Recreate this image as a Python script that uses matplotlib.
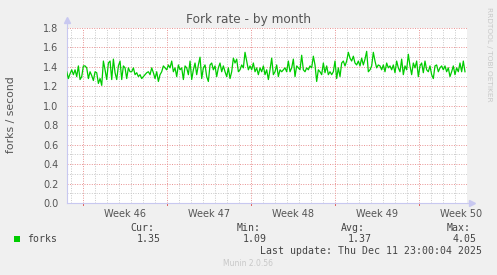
import matplotlib
matplotlib.use("Agg")
import matplotlib.pyplot as plt
import numpy as np

# ---- data (days since Mon 10 Nov 2025 00:00) ----
t_start = -1.333          # first sample, days
t_step = 1.0 / 7.2        # sample spacing, days
forks = [
    1.35, 1.28, 1.33, 1.37, 1.32, 1.37, 1.30, 1.41, 1.27, 1.30, 1.41, 1.41, 1.39, 1.28, 1.35, 1.31,
    1.26, 1.35, 1.34, 1.23, 1.28, 1.21, 1.46, 1.37, 1.27, 1.44, 1.46, 1.27, 1.48, 1.34, 1.27, 1.41,
    1.46, 1.27, 1.41, 1.39, 1.28, 1.39, 1.35, 1.35, 1.39, 1.32, 1.34, 1.30, 1.32, 1.28, 1.30, 1.32,
    1.34, 1.35, 1.32, 1.39, 1.34, 1.28, 1.35, 1.25, 1.32, 1.35, 1.41, 1.39, 1.37, 1.42, 1.39, 1.46,
    1.35, 1.39, 1.30, 1.42, 1.37, 1.39, 1.27, 1.41, 1.39, 1.32, 1.46, 1.27, 1.37, 1.44, 1.32, 1.42,
    1.50, 1.28, 1.39, 1.42, 1.30, 1.25, 1.42, 1.44, 1.37, 1.41, 1.30, 1.39, 1.44, 1.35, 1.41, 1.35,
    1.30, 1.39, 1.28, 1.35, 1.49, 1.44, 1.48, 1.35, 1.37, 1.42, 1.39, 1.55, 1.46, 1.37,
    1.41, 1.37, 1.44, 1.35, 1.39, 1.32, 1.39, 1.35, 1.41, 1.32, 1.37, 1.27, 1.37, 1.49, 1.32, 1.35,
    1.42, 1.30, 1.37, 1.35, 1.37, 1.39, 1.35, 1.46, 1.35, 1.39, 1.48, 1.30, 1.41, 1.39, 1.37, 1.52,
    1.37, 1.35, 1.39, 1.37, 1.41, 1.39, 1.51, 1.42, 1.25, 1.37, 1.35, 1.32, 1.44, 1.34, 1.41, 1.32,
    1.35, 1.32, 1.35, 1.46, 1.28, 1.39, 1.30, 1.44, 1.46, 1.41, 1.46, 1.55, 1.49, 1.46, 1.51, 1.44,
    1.42, 1.46, 1.41, 1.49, 1.42, 1.48, 1.56, 1.35, 1.37, 1.41, 1.55, 1.46, 1.39, 1.42, 1.41, 1.37,
    1.42, 1.35, 1.44, 1.39, 1.41, 1.37, 1.42, 1.34, 1.46, 1.39, 1.35, 1.48, 1.32, 1.41, 1.37, 1.53,
    1.41, 1.32, 1.44, 1.39, 1.46, 1.30, 1.41, 1.44, 1.34, 1.46, 1.37, 1.35, 1.41, 1.32, 1.28, 1.41,
    1.42, 1.35, 1.39, 1.41, 1.37, 1.41, 1.35, 1.39, 1.30, 1.35, 1.41, 1.32, 1.39, 1.35, 1.44, 1.35,
    1.46, 1.35,
]
week_labels = ["Week 46", "Week 47", "Week 48", "Week 49", "Week 50"]
week_starts = [0, 7, 14, 21, 28]
x_range = (-1.31, 32.03)
y_range = (0.0, 1.8)

stat_names = ["Cur:", "Min:", "Avg:", "Max:"]
stat_values = ["1.35", "1.09", "1.37", "4.05"]
series_name = "forks"
last_update = "Last update: Thu Dec 11 23:00:04 2025"

# ---- figure ----
W, H = 497, 275
fig = plt.figure(figsize=(W / 100, H / 100), dpi=100, facecolor="#F0F0F0")
ax = fig.add_axes([67 / W, 72 / H, 400 / W, 175 / H], facecolor="white")

t = t_start + t_step * np.arange(len(forks))
ax.plot(t, forks, color="#00CC00", lw=0.9, zorder=5)

ax.set_xlim(*x_range)
ax.set_ylim(*y_range)

# grid
minor_c = "#C8C8C8"
major_c = "#E89090"
dots = (0, (1, 1.5))
for d in np.arange(np.ceil(x_range[0]), x_range[1], 1.0):
    if int(d) % 7 != 0:
        ax.axvline(d, color=minor_c, lw=0.7, ls=dots, zorder=1)
for y in np.arange(0.1, 1.81, 0.2):
    ax.axhline(y, color=minor_c, lw=0.7, ls=dots, zorder=1)
for w in week_starts:
    ax.axvline(w, color=major_c, lw=0.7, ls=dots, zorder=2)
for y in np.arange(0.2, 1.81, 0.2):
    ax.axhline(y, color=major_c, lw=0.7, ls=dots, zorder=2)

# axes
for s in ["top", "right"]:
    ax.spines[s].set_visible(False)
for s in ["left", "bottom"]:
    ax.spines[s].set_color("#C8C8F0")
    ax.spines[s].set_linewidth(0.8)
ax.plot([0], [1.045], marker="^", color="#C8C8F0", ms=4, transform=ax.transAxes, clip_on=False)
ax.plot([1.012], [0], marker=">", color="#C8C8F0", ms=4, transform=ax.transAxes, clip_on=False)
ax.plot([0, 0], [1.0, 1.04], color="#C8C8F0", lw=0.8, transform=ax.transAxes, clip_on=False)
ax.plot([1.0, 1.01], [0, 0], color="#C8C8F0", lw=0.8, transform=ax.transAxes, clip_on=False)

ax.set_yticks(np.arange(0, 1.81, 0.2))
ax.set_yticklabels([f"{v:.1f}" for v in np.arange(0, 1.81, 0.2)])
ax.set_xticks([w + 3.5 for w in week_starts])
ax.set_xticklabels(week_labels)
ax.tick_params(axis="both", labelsize=7, colors="#555555", length=0, pad=4)
ax.tick_params(axis="y", pad=6)
for w in week_starts:
    ax.plot([w, w], [-0.02, 0], color="#E06060", lw=0.7, clip_on=False)

# texts
fig.text(248 / W, 1 - 19 / H, "Fork rate - by month", ha="center", va="center",
         fontsize=8.7, color="#555555")
fig.text(11 / W, 1 - 115 / H, "forks / second", ha="center", va="center",
         rotation=90, fontsize=7.8, color="#555555")
fig.text(489 / W, 1 - 54 / H, "RRDTOOL / TOBI OETIKER", ha="center", va="center",
         rotation=270, fontsize=5.3, color="#C8C8C8")

mono = dict(family="DejaVu Sans Mono", fontsize=7.1, color="#444444")
fig.patches.append(plt.Rectangle((14 / W, 1 - 242 / H), 6 / W, 6 / H, transform=fig.transFigure,
                                 facecolor="#00CC00", edgecolor="none"))
fig.text(27 / W, 1 - 239 / H, series_name, ha="left", va="center", **mono)
name_right = [154, 261, 365, 471]
val_right = [161, 267, 372, 477]
for nm, vl, xr, xv in zip(stat_names, stat_values, name_right, val_right):
    fig.text(xr / W, 1 - 228 / H, nm, ha="right", va="center", **mono)
    fig.text(xv / W, 1 - 239 / H, vl, ha="right", va="center", **mono)
fig.text(482 / W, 1 - 251 / H, last_update, ha="right", va="center", **mono)
fig.text(248 / W, 1 - 264 / H, "Munin 2.0.56", ha="center", va="center",
         fontsize=5.5, color="#C8C8C8")

fig.savefig("out.png", dpi=100, facecolor=fig.get_facecolor())
